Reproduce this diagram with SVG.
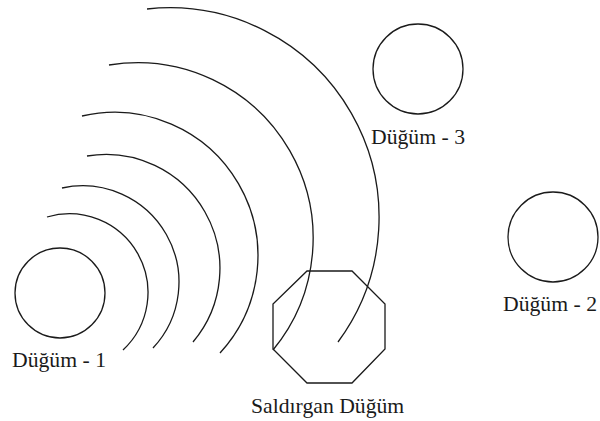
<svg xmlns="http://www.w3.org/2000/svg" width="600" height="421" viewBox="0 0 600 421">
<style>
.s{fill:none;stroke:#1a1a1a;stroke-width:1.3}
.t{font-family:"Liberation Serif","Times New Roman",serif;font-size:21.7px;fill:#1a1a1a}
</style>
<rect width="600" height="421" fill="#ffffff"/>
<g id="connectors">
<path class="s" d="M47,217 A78.7,78.7 0 0 1 123,350"/>
<path class="s" d="M62,188 A96.4,96.4 0 0 1 153,348"/>
<path class="s" d="M87,156 A114,114 0 0 1 193,342"/>
<path class="s" d="M82,116 A143.5,143.5 0 0 1 220,353"/>
<path class="s" d="M109,65 A175.6,175.6 0 0 1 273,350"/>
<path class="s" d="M147,9 A209.6,209.6 0 0 1 338,342"/>
</g>
<g id="node1">
<circle class="s" cx="60" cy="293" r="45"/>
<text class="t" x="12" y="367">Düğüm - 1</text>
</g>
<g id="node3">
<circle class="s" cx="418" cy="69" r="45"/>
<text class="t" x="371" y="144">Düğüm - 3</text>
</g>
<g id="node2">
<circle class="s" cx="553" cy="237" r="45"/>
<text class="t" x="503" y="311" font-size="21">Düğüm - 2</text>
</g>
<g id="attacker">
<polygon class="s" points="307,271 352,271 385,304 385,349 352,383 307,383 273,349 273,304"/>
<text class="t" x="251" y="413">Saldırgan Düğüm</text>
</g>
</svg>
